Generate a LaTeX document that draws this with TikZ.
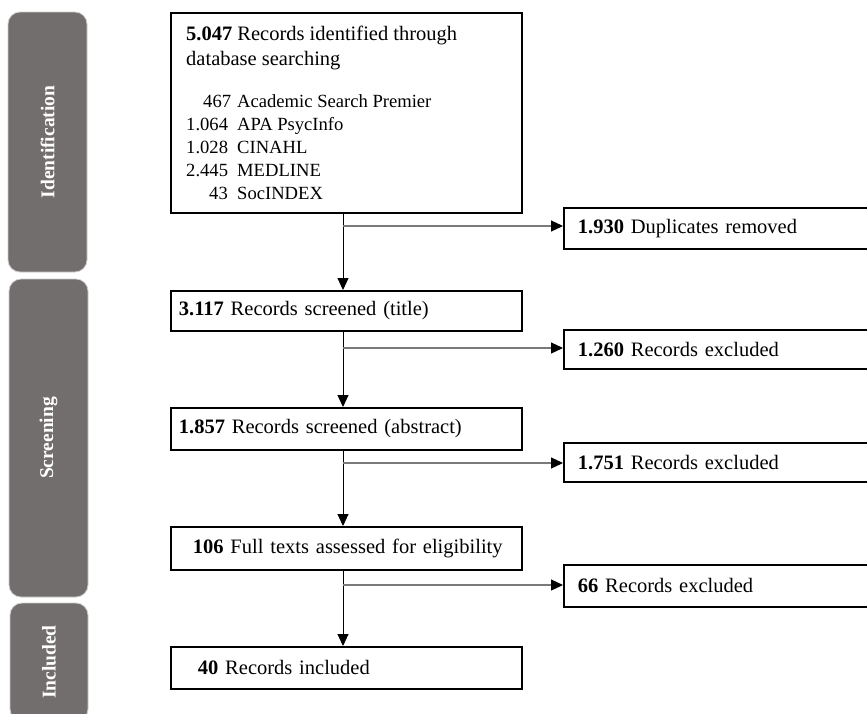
\documentclass[tikz,border=0pt]{standalone}
\usepackage{fontspec}
\setmainfont{Liberation Serif}
\usetikzlibrary{arrows.meta}
\definecolor{barfill}{HTML}{726E6D}
\definecolor{barline}{HTML}{CFCDCC}
\definecolor{conngray}{HTML}{7A7A7A}
\newcommand{\mainsz}{\fontsize{20.5}{24}\selectfont}
\newcommand{\listsz}{\fontsize{18.6}{22}\selectfont}
\begin{document}
\begin{tikzpicture}[x=1pt,y=-1pt,
  phase/.style={draw=barline, line width=0.8pt, fill=barfill, rounded corners=12pt,
    text=white, font=\fontsize{19.5}{22}\selectfont\bfseries, rotate=90, inner sep=0pt},
  fbox/.style={draw=black, line width=1.8pt, anchor=north west, align=left,
    inner ysep=0pt, font=\mainsz},
  txt/.style={anchor=base west, inner sep=0pt},
  vconn/.style={draw=black, line width=1pt, -{Triangle[length=12pt,width=11pt]}},
  hconn/.style={draw=conngray, line width=1.2pt, -{Triangle[length=12pt,width=11pt,color=black]}}
]
\useasboundingbox (0,0) rectangle (867,713);
\clip (0,0) rectangle (867,713);

% phase bars
\node[phase, minimum width=260pt, minimum height=79pt] (pid) at (47.5,142) {Identification};
\node[phase, minimum width=318pt, minimum height=79pt] (psc) at (48.5,438) {Screening};
\node[phase, minimum width=118pt, minimum height=78pt] (pin) at (49,662) {Included};

% identification box
\node[draw=black, line width=1.8pt, minimum width=351pt, minimum height=200pt,
  anchor=north west, inner sep=0pt] (ident) at (170,12) {};
\node[txt, font=\mainsz] (t1) at (186,40) {\textbf{5.047} Records identified through};
\node[txt, font=\mainsz] (t2) at (186,65) {database searching};
\node[txt, font=\listsz] (n1) at (203,107) {467};
\node[txt, font=\listsz] (d1) at (237,107) {Academic Search Premier};
\node[txt, font=\listsz] (n2) at (186,130) {1.064};
\node[txt, font=\listsz] (d2) at (237,130) {APA PsycInfo};
\node[txt, font=\listsz] (n3) at (186,153) {1.028};
\node[txt, font=\listsz] (d3) at (237,153) {CINAHL};
\node[txt, font=\listsz] (n4) at (186,176) {2.445};
\node[txt, font=\listsz] (d4) at (237,176) {MEDLINE};
\node[txt, font=\listsz] (n5) at (209,199) {43};
\node[txt, font=\listsz] (d5) at (237,199) {SocINDEX};

% main column
\node[fbox, minimum width=351pt, minimum height=40pt, inner xsep=8pt, text width=335pt] (box2) at (170,290) {\textbf{3.117} Records screened (title)};
\node[fbox, minimum width=351pt, minimum height=42pt, inner xsep=8pt, text width=335pt] (box3) at (170,407) {\textbf{1.857} Records screened (abstract)};
\node[fbox, minimum width=351pt, minimum height=43pt, inner xsep=8pt, text width=335pt] (box4) at (170,526) {\hspace*{14pt}\textbf{106} Full texts assessed for eligibility};
\node[fbox, minimum width=351pt, minimum height=42pt, inner xsep=8pt, text width=335pt] (box5) at (170,646) {\hspace*{19pt}\textbf{40} Records included};

% side column
\node[fbox, minimum width=330pt, minimum height=41pt, inner xsep=14pt, text width=302pt] (dup) at (563,207) {\textbf{1.930} Duplicates removed};
\node[fbox, minimum width=330pt, minimum height=39pt, inner xsep=14pt, text width=302pt] (ex1) at (563,329) {\textbf{1.260} Records excluded};
\node[fbox, minimum width=330pt, minimum height=39pt, inner xsep=14pt, text width=302pt] (ex2) at (563,442) {\textbf{1.751} Records excluded};
\node[fbox, minimum width=330pt, minimum height=42pt, inner xsep=14pt, text width=302pt] (ex3) at (563,564) {\textbf{66} Records excluded};

% branch points
\coordinate (b1) at (343,226);
\coordinate (b2) at (343,348);
\coordinate (b3) at (343,463);
\coordinate (b4) at (343,585);

% connectors
\draw[vconn] (ident.south -| b1) -- (box2.north -| b1);
\draw[vconn] (box2.south -| b2) -- (box3.north -| b2);
\draw[vconn] (box3.south -| b3) -- (box4.north -| b3);
\draw[vconn] (box4.south -| b4) -- (box5.north -| b4);
\draw[hconn] (b1) -- (b1 -| dup.west);
\draw[hconn] (b2) -- (b2 -| ex1.west);
\draw[hconn] (b3) -- (b3 -| ex2.west);
\draw[hconn] (b4) -- (b4 -| ex3.west);
\end{tikzpicture}
\end{document}
